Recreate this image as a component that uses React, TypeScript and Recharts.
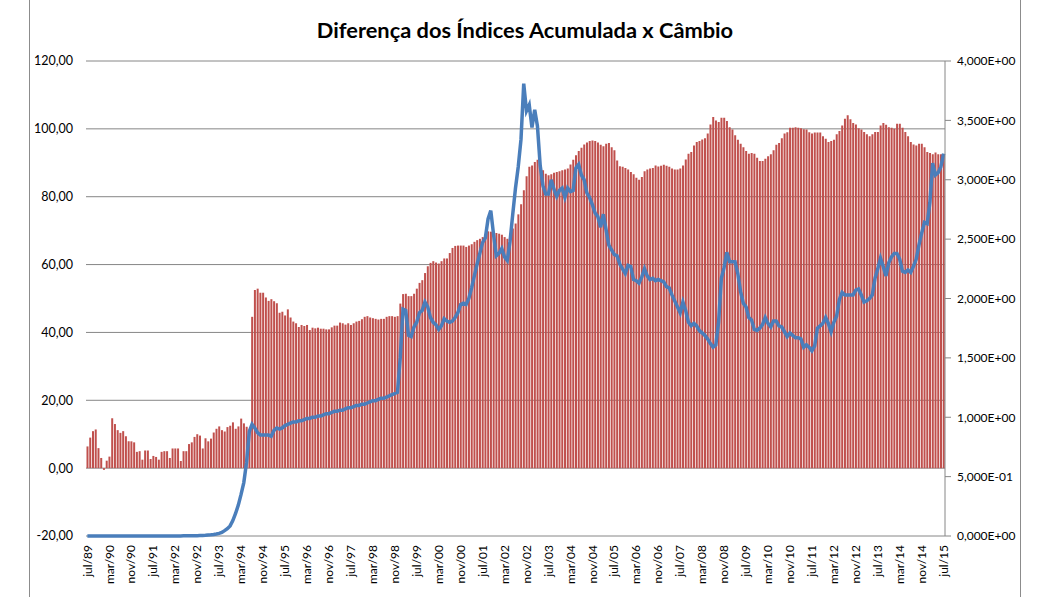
import React from 'react';
import { ComposedChart, Bar, Line, XAxis, YAxis, CartesianGrid } from 'recharts';

const MONTHS = ['jan', 'fev', 'mar', 'abr', 'mai', 'jun', 'jul', 'ago', 'set', 'out', 'nov', 'dez'];
const START_YEAR = 1989;
const START_MONTH = 6; // jul

// Diferença dos Índices Acumulada (left axis), monthly from jul/89 to jul/15
const diffValues = [
  6.4, 9.0, 10.9, 11.4, 5.9, 3.0,
  -0.5, 2.2, 3.4, 14.7, 13.0, 11.2, 10.4, 10.9, 9.4, 7.9, 7.9, 7.6,
  4.8, 5.0, 2.5, 5.2, 5.2, 2.7, 3.6, 3.3, 2.5, 4.8, 5.0, 5.0,
  3.0, 5.8, 5.8, 5.8, 2.1, 5.0, 5.0, 7.1, 7.6, 9.2, 10.0, 9.6,
  5.8, 8.8, 7.9, 8.7, 10.5, 11.6, 12.3, 11.2, 10.8, 12.1, 12.5, 13.5,
  11.6, 12.3, 14.6, 13.2, 12.2, 11.2, 44.6, 52.5, 52.9, 51.7, 51.7, 50.3,
  49.3, 49.8, 49.2, 48.6, 45.8, 46.1, 45.0, 46.8, 44.4, 43.2, 42.7, 41.6,
  42.2, 41.9, 42.2, 40.7, 41.4, 41.2, 41.4, 41.1, 41.1, 40.9, 40.9, 41.5,
  42.0, 42.0, 42.9, 42.7, 42.3, 42.7, 42.2, 42.7, 43.2, 43.4, 43.9, 44.6,
  44.8, 44.4, 44.2, 44.0, 43.8, 44.0, 44.0, 44.6, 44.8, 44.8, 44.6, 44.8,
  48.5, 51.3, 51.4, 50.7, 50.7, 51.4, 52.9, 54.6, 55.4, 57.5, 59.5, 60.5,
  61.0, 60.6, 60.3, 61.0, 61.8, 61.8, 63.4, 64.9, 65.5, 65.6, 65.6, 65.6,
  65.2, 65.6, 66.0, 66.7, 67.2, 67.6, 68.1, 68.9, 69.8, 69.7, 69.4, 69.3,
  69.1, 68.8, 68.1, 67.6, 69.1, 70.6, 72.1, 74.8, 77.8, 81.9, 86.0, 88.8,
  89.2, 90.2, 90.9, 89.2, 87.8, 86.8, 86.3, 86.6, 87.1, 87.3, 87.5, 87.8,
  88.0, 88.3, 89.5, 90.9, 92.2, 93.5, 94.4, 95.4, 96.0, 96.4, 96.6, 96.4,
  96.0, 95.3, 94.9, 95.6, 95.8, 94.6, 93.7, 90.7, 89.0, 88.8, 88.5, 88.0,
  87.3, 86.6, 85.6, 85.0, 85.8, 87.5, 88.0, 88.3, 88.5, 89.2, 88.9, 89.1,
  89.4, 89.1, 88.8, 88.3, 88.0, 88.0, 88.3, 89.2, 91.0, 92.7, 93.2, 95.1,
  96.1, 96.4, 96.9, 97.2, 98.6, 101.3, 103.5, 102.5, 102.0, 103.3, 103.3, 102.3,
  100.5, 99.8, 98.1, 96.8, 95.6, 94.6, 93.5, 92.7, 92.9, 92.7, 91.5, 90.5,
  90.5, 91.2, 91.9, 92.5, 93.7, 95.3, 95.8, 97.2, 98.6, 99.0, 100.3, 100.3,
  100.5, 100.3, 100.2, 99.9, 99.8, 99.0, 98.6, 98.9, 98.9, 98.9, 97.8, 97.1,
  96.1, 96.4, 96.8, 98.4, 99.4, 101.0, 103.0, 104.0, 102.8, 101.7, 101.3, 100.2,
  99.8, 99.1, 98.4, 97.8, 98.4, 99.1, 99.1, 101.0, 101.7, 101.2, 100.5, 100.3,
  100.0, 101.5, 101.5, 100.3, 99.1, 97.8, 96.1, 95.4, 95.1, 95.6, 95.6, 94.6,
  93.2, 92.9, 92.5, 93.0, 92.5, 92.5, 92.5,
];

// Câmbio (right axis), monthly from jul/89 to jul/15
const cambioValues = [
  0, 0, 0, 0, 0, 0,
  0, 0, 0, 0, 0, 0, 0, 0, 0, 0, 0, 0,
  0.0001, 0.0001, 0.0001, 0.0001, 0.0001, 0.0001, 0.0001, 0.0002, 0.0002, 0.0002, 0.0003, 0.0003,
  0.0004, 0.0005, 0.0006, 0.0008, 0.0009, 0.0011, 0.0013, 0.0016, 0.002, 0.0024, 0.003, 0.0037,
  0.0047, 0.006, 0.008, 0.01, 0.013, 0.017, 0.022, 0.03, 0.045, 0.062, 0.085, 0.13,
  0.19, 0.26, 0.35, 0.45, 0.62, 0.88, 0.94, 0.91, 0.87, 0.85, 0.85, 0.85,
  0.85, 0.84, 0.89, 0.91, 0.9, 0.91, 0.93, 0.94, 0.95, 0.96, 0.96, 0.97,
  0.97, 0.98, 0.99, 0.99, 1.0, 1.0, 1.01, 1.01, 1.02, 1.03, 1.03, 1.04,
  1.05, 1.05, 1.06, 1.06, 1.07, 1.08, 1.08, 1.09, 1.1, 1.1, 1.11, 1.11,
  1.12, 1.13, 1.14, 1.14, 1.15, 1.16, 1.16, 1.17, 1.18, 1.19, 1.2, 1.21,
  1.5, 1.91, 1.9, 1.69, 1.68, 1.76, 1.8, 1.88, 1.9, 1.97, 1.93, 1.84,
  1.8, 1.78, 1.74, 1.77, 1.83, 1.81, 1.8, 1.81, 1.84, 1.88, 1.95, 1.96,
  1.95, 2.0, 2.09, 2.19, 2.29, 2.38, 2.47, 2.51, 2.67, 2.74, 2.54, 2.36,
  2.38, 2.42, 2.35, 2.32, 2.48, 2.71, 2.93, 3.11, 3.34, 3.81, 3.58, 3.63,
  3.44, 3.59, 3.45, 3.12, 2.95, 2.88, 2.88, 3.0, 2.92, 2.86, 2.91, 2.93,
  2.85, 2.93, 2.9, 2.91, 3.1, 3.13, 3.04, 3.0, 2.89, 2.85, 2.79, 2.72,
  2.69, 2.6, 2.71, 2.58, 2.45, 2.41, 2.37, 2.36, 2.29, 2.25, 2.21, 2.28,
  2.27, 2.16, 2.15, 2.13, 2.18, 2.25, 2.19, 2.16, 2.17, 2.15, 2.16, 2.15,
  2.14, 2.1, 2.09, 2.03, 1.98, 1.93, 1.88, 1.97, 1.9, 1.8, 1.77, 1.79,
  1.77, 1.73, 1.71, 1.69, 1.66, 1.62, 1.59, 1.61, 1.8, 2.17, 2.26, 2.39,
  2.31, 2.31, 2.31, 2.21, 2.06, 1.96, 1.93, 1.84, 1.82, 1.74, 1.73, 1.75,
  1.78, 1.84, 1.79, 1.76, 1.81, 1.81, 1.77, 1.76, 1.72, 1.68, 1.71, 1.69,
  1.67, 1.67, 1.66, 1.59, 1.61, 1.59, 1.56, 1.6, 1.75, 1.77, 1.79, 1.84,
  1.79, 1.72, 1.8, 1.85, 1.99, 2.05, 2.03, 2.03, 2.03, 2.03, 2.07, 2.08,
  2.03, 1.97, 1.98, 2.0, 2.03, 2.17, 2.25, 2.34, 2.27, 2.19, 2.3, 2.35,
  2.38, 2.38, 2.33, 2.23, 2.22, 2.24, 2.22, 2.27, 2.33, 2.45, 2.55, 2.64,
  2.63, 2.81, 3.14, 3.04, 3.06, 3.11, 3.22,
];

const leftTicks = [-20, 0, 20, 40, 60, 80, 100, 120];
const rightTicks = [0, 0.5, 1, 1.5, 2, 2.5, 3, 3.5, 4];

const categories = diffValues.map((_, i) => {
  const m = START_MONTH + i;
  const yy = String((START_YEAR + Math.floor(m / 12)) % 100).padStart(2, '0');
  return `${MONTHS[m % 12]}/${yy}`;
});

const data = categories.map((label, i) => ({
  label,
  diff: diffValues[i],
  cambio: cambioValues[i],
}));

const FONT = 'Lato, "Noto Sans", sans-serif';

const fmtLeft = (v: number) => v.toFixed(2).replace('.', ',');
const fmtRight = (v: number) => {
  if (v === 0) return '0,000E+00';
  const e = Math.floor(Math.log10(v) + 1e-9);
  const m = v / Math.pow(10, e);
  const sign = e < 0 ? '-' : '+';
  return `${m.toFixed(3).replace('.', ',')}E${sign}${String(Math.abs(e)).padStart(2, '0')}`;
};

const XTick = (props: any) => {
  const { x, y, payload } = props;
  return (
    <text
      x={x}
      y={y}
      transform={`rotate(-90 ${x} ${y})`}
      textAnchor="end"
      dy="0.35em"
      fontSize={12}
      fontFamily={FONT}
      fill="#000"
    >
      {payload.value}
    </text>
  );
};

export default function App() {
  return (
    <div style={{ position: 'relative', width: 1043, height: 597, background: '#fff', overflow: 'hidden' }}>
      <style>{'body{margin:0;}'}</style>
      <div style={{ position: 'absolute', left: 29, top: 0, width: 1, height: 597, background: '#8c8c8c' }} />
      <div style={{ position: 'absolute', left: 1020, top: 0, width: 1, height: 597, background: '#8c8c8c' }} />
      <div
        style={{
          position: 'absolute',
          left: 0,
          top: 17,
          width: 1050,
          textAlign: 'center',
          fontFamily: FONT,
          fontWeight: 700,
          fontSize: 21.8,
          lineHeight: '26px',
          color: '#000',
        }}
      >
        Diferença dos Índices Acumulada x Câmbio
      </div>
      <ComposedChart
        width={1043}
        height={597}
        data={data}
        margin={{ top: 61, right: 0, bottom: 0, left: 0 }}
        barCategoryGap="18%"
      >
        <CartesianGrid yAxisId="left" vertical={false} stroke="#868686" strokeWidth={1} />
        <XAxis
          dataKey="label"
          interval={7}
          height={61}
          axisLine={false}
          tickLine={false}
          tickSize={4}
          tickMargin={5}
          tick={<XTick />}
        />
        <YAxis
          yAxisId="left"
          orientation="left"
          width={86}
          domain={[-20, 120]}
          ticks={leftTicks}
          tickFormatter={fmtLeft}
          axisLine={false}
          tickLine={false}
          tickSize={6}
          tickMargin={7}
          tick={{ fontSize: 12.5, fill: '#000', fontFamily: FONT }}
        />
        <YAxis
          yAxisId="right"
          orientation="right"
          width={98}
          domain={[0, 4]}
          ticks={rightTicks}
          tickFormatter={fmtRight}
          axisLine={{ stroke: '#868686' }}
          tickLine={{ stroke: '#868686' }}
          tickSize={6}
          tickMargin={6}
          tick={{ fontSize: 12, fill: '#000', fontFamily: FONT, textAnchor: 'start' }}
        />
        <Bar yAxisId="left" dataKey="diff" fill="#C0504D" isAnimationActive={false} />
        <Line
          yAxisId="right"
          dataKey="cambio"
          type="linear"
          stroke="#4A7EBB"
          strokeWidth={3.5}
          dot={false}
          activeDot={false}
          isAnimationActive={false}
        />
      </ComposedChart>
    </div>
  );
}
